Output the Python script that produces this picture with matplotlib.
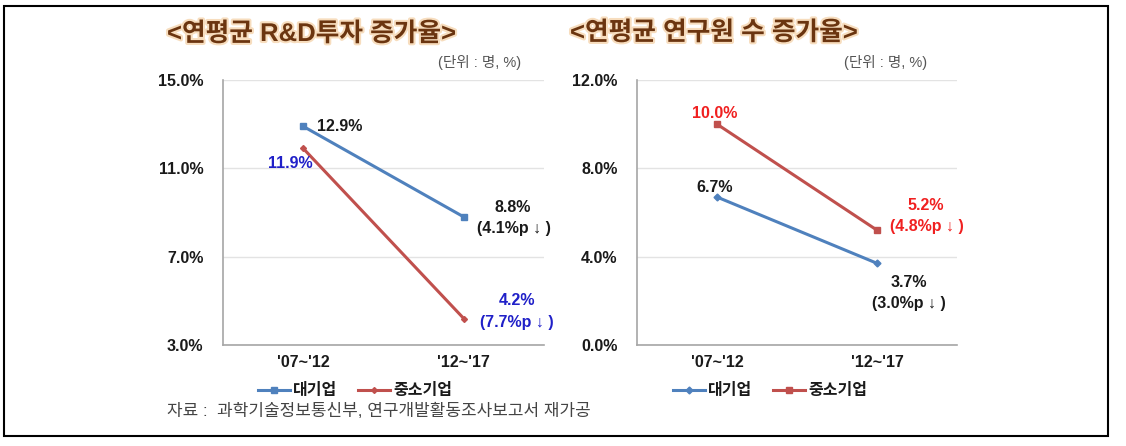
import matplotlib
matplotlib.use("Agg")
import matplotlib.pyplot as plt
import matplotlib.patheffects as pe
from matplotlib.patches import Rectangle

plt.rcParams['font.family'] = ['Liberation Sans', 'Noto Sans CJK KR', 'DejaVu Sans']

categories = ["'07~'12", "'12~'17"]
series_names = ["대기업", "중소기업"]

# Left chart: R&D investment growth
rd_large = [12.9, 8.8]
rd_sme = [11.9, 4.2]
rd_ticks = [3.0, 7.0, 11.0, 15.0]

# Right chart: researcher growth
res_large = [6.7, 3.7]
res_sme = [10.0, 5.2]
res_ticks = [0.0, 4.0, 8.0, 12.0]

left_title = "<연평균 R&D투자 증가율>"
right_title = "<연평균 연구원 수 증가율>"
unit_text = "(단위 : 명, %)"
source_text = "자료 :  과학기술정보통신부, 연구개발활동조사보고서 재가공"

BLUE = '#4F81BD'
RED = '#C0504D'
TXT_BLUE = '#2020C8'
TXT_RED = '#F02020'
TXT_BLACK = '#1a1a1a'

W, H = 1126, 446
fig = plt.figure(figsize=(W / 100, H / 100), dpi=100)

def fx(x):
    return x / W

def fy(y):
    return 1 - y / H

# border
fig.patches.append(Rectangle((fx(4), fy(436)), fx(1108) - fx(4), fy(6) - fy(436),
                             transform=fig.transFigure, fill=False, edgecolor='black',
                             linewidth=1.5))

ax1 = fig.add_axes([fx(223), fy(345), fx(544) - fx(223), fy(80) - fy(345)])
ax2 = fig.add_axes([fx(637), fy(345), fx(957) - fx(637), fy(80) - fy(345)])

x = list(range(len(categories)))

TICK_FS = 11.5

def style_axis(ax, ticks):
    ax.set_xlim(-0.5, 1.5)
    ax.set_ylim(ticks[0], ticks[-1])
    ax.set_yticks(ticks)
    ax.set_yticklabels([f"{t:.1f}%" for t in ticks], fontsize=TICK_FS, fontweight='bold',
                       color=TXT_BLACK)
    ax.set_xticks(x)
    ax.set_xticklabels(categories, fontsize=TICK_FS, fontweight='bold', color=TXT_BLACK)
    ax.tick_params(length=0, pad=14)
    ax.tick_params(axis='x', pad=7)
    ax.grid(axis='y', color='#e3e3e3', linewidth=1)
    ax.set_axisbelow(True)
    for s in ['top', 'right']:
        ax.spines[s].set_visible(False)
    for s in ['left', 'bottom']:
        ax.spines[s].set_color('#a6a6a6')
        ax.spines[s].set_linewidth(1.2)

style_axis(ax1, rd_ticks)
style_axis(ax2, res_ticks)

ax1.plot(x, rd_large, color=BLUE, linewidth=2.2, marker='s', markersize=4.5, label=series_names[0])
ax1.plot(x, rd_sme, color=RED, linewidth=2.2, marker='D', markersize=3, label=series_names[1])
ax2.plot(x, res_large, color=BLUE, linewidth=2.2, marker='D', markersize=3.5, label=series_names[0])
ax2.plot(x, res_sme, color=RED, linewidth=2.2, marker='s', markersize=4.5, label=series_names[1])

fs = 11.5

def ann(ax, xi, yi, text, dx, dy, color, ha='center'):
    ax.annotate(text, (xi, yi), xytext=(dx, dy), textcoords='offset points',
                ha=ha, va='center', fontsize=fs, fontweight='bold', color=color,
                annotation_clip=False)

# left annotations
ann(ax1, 0, rd_large[0], f"{rd_large[0]:.1f}%", 10, 0, TXT_BLACK, ha='left')
ann(ax1, 0, rd_sme[0], f"{rd_sme[0]:.1f}%", 7, -11, TXT_BLUE, ha='right')
d1 = rd_large[0] - rd_large[1]
ann(ax1, 1, rd_large[1], f"{rd_large[1]:.1f}%", 35, 7, TXT_BLACK)
ann(ax1, 1, rd_large[1], f"({d1:.1f}%p ↓ )", 36, -8, TXT_BLACK)
d2 = rd_sme[0] - rd_sme[1]
ann(ax1, 1, rd_sme[1], f"{rd_sme[1]:.1f}%", 38, 13, TXT_BLUE)
ann(ax1, 1, rd_sme[1], f"({d2:.1f}%p ↓ )", 38, -3, TXT_BLUE)

# right annotations
ann(ax2, 0, res_sme[0], f"{res_sme[0]:.1f}%", -2, 8, TXT_RED)
ann(ax2, 0, res_large[0], f"{res_large[0]:.1f}%", -2, 7, TXT_BLACK)
d3 = res_sme[0] - res_sme[1]
ann(ax2, 1, res_sme[1], f"{res_sme[1]:.1f}%", 35, 18, TXT_RED)
ann(ax2, 1, res_sme[1], f"({d3:.1f}%p ↓ )", 36, 3, TXT_RED)
d4 = res_large[0] - res_large[1]
ann(ax2, 1, res_large[1], f"{res_large[1]:.1f}%", 23, -14, TXT_BLACK)
ann(ax2, 1, res_large[1], f"({d4:.1f}%p ↓ )", 23, -29, TXT_BLACK)

# titles
title_kw = dict(fontsize=18.5, fontweight='bold', color='#6B3510', va='center',
                path_effects=[pe.withStroke(linewidth=3, foreground='#F7DDBE')])
fig.text(fx(167), fy(34), left_title, ha='left', **title_kw)
fig.text(fx(570), fy(33), right_title, ha='left', **title_kw)

# units
fig.text(fx(480), fy(62), unit_text, ha='center', va='center', fontsize=10.5, color='#555555')
fig.text(fx(886), fy(62), unit_text, ha='center', va='center', fontsize=10.5, color='#555555')

# legends
for ax, xc in [(ax1, 355), (ax2, 770)]:
    leg = ax.legend(loc='center', bbox_to_anchor=(fx(xc), fy(391)),
                    bbox_transform=fig.transFigure, ncol=2, frameon=False,
                    handlelength=2.0, handletextpad=0.2, columnspacing=1.3,
                    prop={'size': 11.5, 'weight': 'bold'})
    for t in leg.get_texts():
        t.set_color(TXT_BLACK)

# source
fig.text(fx(167), fy(411), source_text, ha='left', va='center', fontsize=12.2, color='#444444')

fig.savefig('out.png', dpi=100)
